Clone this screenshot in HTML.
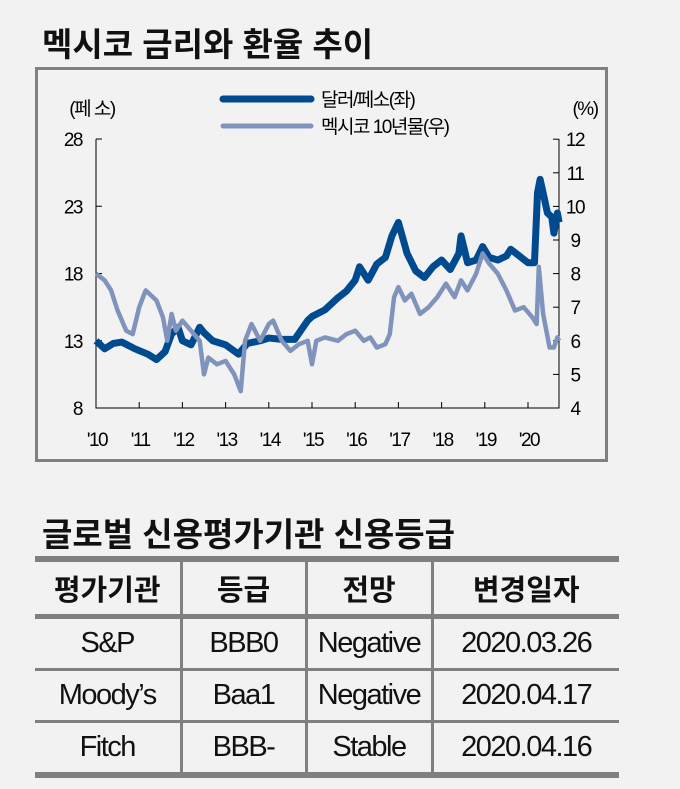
<!DOCTYPE html>
<html><head><meta charset="utf-8"><style>
body{margin:0;background:#f2f2f2;font-family:"Liberation Sans","Noto Sans CJK KR",sans-serif;}
#wrap{position:relative;width:680px;height:789px;overflow:hidden;background:#f2f2f2}
.t{position:absolute;white-space:nowrap;color:#111}
table{position:absolute;left:35px;top:556px;width:584px;border-collapse:collapse;font-size:29px;color:#111;table-layout:fixed}
td,th{text-align:center;padding:0;border-left:3px solid #808080;overflow:visible;white-space:nowrap}
td:first-child,th:first-child{border-left:none}
th{font-weight:bold;height:52px;border-bottom:5px solid #808080;font-size:29px}
td{height:49px;border-bottom:3px solid #808080;letter-spacing:-1.5px}
tr:last-child td{border-bottom:6px solid #808080}
</style></head><body>
<div id="wrap">
<div class="t" style="left:42px;top:18px;font-size:33px;font-weight:bold">멕시코 금리와 환율 추이</div>
<svg id="chart" width="680" height="470" style="position:absolute;left:0;top:0"></svg>
<div class="t" style="left:42px;top:508px;font-size:33px;font-weight:bold">글로벌 신용평가기관 신용등급</div>
<table style="border-top:6px solid #808080">
<colgroup><col style="width:146px"><col style="width:125px"><col style="width:126px"><col></colgroup>
<tr><th>평가기관</th><th>등급</th><th>전망</th><th>변경일자</th></tr>
<tr><td>S&amp;P</td><td>BBB0</td><td>Negative</td><td>2020.03.26</td></tr>
<tr><td>Moody’s</td><td>Baa1</td><td>Negative</td><td>2020.04.17</td></tr>
<tr><td>Fitch</td><td>BBB-</td><td>Stable</td><td>2020.04.16</td></tr>
</table>
</div>
<script>
const fxT=[2010.0,2010.2,2010.4,2010.6,2010.9,2011.2,2011.4,2011.6,2011.75,2011.9,2012.0,2012.2,2012.4,2012.5,2012.7,2013.0,2013.3,2013.5,2013.8,2014.0,2014.3,2014.6,2014.9,2015.0,2015.3,2015.6,2015.8,2016.0,2016.1,2016.3,2016.5,2016.7,2016.85,2017.0,2017.2,2017.4,2017.6,2017.8,2018.0,2018.2,2018.4,2018.45,2018.6,2018.8,2018.95,2019.1,2019.3,2019.5,2019.6,2019.8,2020.0,2020.15,2020.22,2020.28,2020.35,2020.45,2020.55,2020.6,2020.68,2020.72];
const fxV=[13,12.4,12.8,12.9,12.4,12.0,11.6,12.2,13.5,14.0,13.0,12.7,14.0,13.6,13.0,12.7,12.0,12.8,13.0,13.2,13.1,13.1,14.5,14.8,15.3,16.2,16.7,17.5,18.5,17.5,18.7,19.2,20.8,21.8,19.5,18.2,17.7,18.5,19.0,18.3,19.5,20.8,18.8,19.0,20.0,19.2,19.0,19.3,19.8,19.3,18.8,18.8,24.0,25.0,24.0,22.5,22.2,21.0,22.5,21.8];
const yT=[2010.0,2010.2,2010.35,2010.5,2010.7,2010.85,2011.0,2011.15,2011.4,2011.55,2011.65,2011.75,2011.85,2012.0,2012.2,2012.4,2012.5,2012.6,2012.8,2013.0,2013.2,2013.35,2013.45,2013.6,2013.8,2014.0,2014.1,2014.3,2014.5,2014.7,2014.9,2015.0,2015.1,2015.3,2015.6,2015.8,2016.0,2016.2,2016.35,2016.5,2016.7,2016.8,2016.9,2017.0,2017.15,2017.3,2017.5,2017.7,2017.9,2018.1,2018.3,2018.45,2018.6,2018.8,2018.95,2019.1,2019.3,2019.5,2019.7,2019.9,2020.1,2020.2,2020.25,2020.35,2020.5,2020.6,2020.68,2020.72];
const yV=[8.0,7.8,7.5,6.9,6.3,6.2,7.0,7.5,7.2,6.7,6.0,6.8,6.3,6.6,6.3,6.0,5.0,5.5,5.3,5.4,5.0,4.5,6.0,6.5,6.0,6.5,6.6,6.0,5.7,5.9,6.0,5.3,6.0,6.1,6.0,6.2,6.3,6.0,6.1,5.8,5.9,6.2,7.3,7.6,7.2,7.4,6.8,7.0,7.3,7.7,7.3,7.8,7.5,8.0,8.6,8.3,8.0,7.5,6.9,7.0,6.7,6.5,8.2,6.8,5.8,5.8,6.1,6.0];
const leftTicks=[8,13,18,23,28];
const rightTicks=[4,5,6,7,8,9,10,11,12];
const years=["'10","'11","'12","'13","'14","'15","'16","'17","'18","'19","'20"];
const X=t=>96+(t-2010)*43.2, YL=v=>408-(v-8)*13.45, YR=v=>408-(v-4)*33.6;
const svg=document.getElementById('chart'),NS='http://www.w3.org/2000/svg';
function mk(tag,a,txt){const e=document.createElementNS(NS,tag);for(const k in a)e.setAttribute(k,a[k]);if(txt!=null)e.textContent=txt;svg.appendChild(e);return e;}
let e=mk('rect',{x:36.5,y:68.5,width:570,height:392,fill:'none',stroke:'#808080','stroke-width':3});

e=mk('path',{d:`M96,139V408H559V139`,fill:'none',stroke:'#000','stroke-width':1});

const F='font-family:"Liberation Sans","Noto Sans CJK KR",sans-serif;font-size:19px;letter-spacing:-1.5px';
leftTicks.forEach(v=>{e=mk('line',{x1:96,x2:102,y1:YL(v),y2:YL(v),stroke:'#000'});
e=mk('text',{x:82,y:YL(v)+7,'text-anchor':'end',style:F},v);});
rightTicks.forEach(v=>{e=mk('line',{x1:553,x2:559,y1:YR(v),y2:YR(v),stroke:'#000'});
e=mk('text',{x:575,y:YR(v)+7,'text-anchor':'middle',style:F},v);});
years.forEach((s,i)=>{const x=X(2010+i);e=mk('line',{x1:x,x2:x,y1:402,y2:408,stroke:'#000'});
e=mk('text',{x:x+1,y:446,'text-anchor':'middle',style:F},s);});
e=mk('text',{x:92,y:115,'text-anchor':'middle',style:F},'(페 소)');
e=mk('text',{x:585,y:115,'text-anchor':'middle',style:F},'(%)');
e=mk('path',{d:fxT.map((t,i)=>(i?'L':'M')+X(t)+','+YL(fxV[i])).join(''),fill:'none',stroke:'#004a8f','stroke-width':7,'stroke-linejoin':'round'});

e=mk('path',{d:yT.map((t,i)=>(i?'L':'M')+X(t)+','+YR(yV[i])).join(''),fill:'none',stroke:'#7f93bd','stroke-width':4.5,'stroke-linejoin':'round'});

e=mk('line',{x1:223,x2:311,y1:99,y2:99,stroke:'#004a8f','stroke-width':7,'stroke-linecap':'round'});
e=mk('text',{x:321,y:106,style:F},'달러/페소(좌)');
e=mk('line',{x1:223,x2:311,y1:126,y2:126,stroke:'#7f93bd','stroke-width':5,'stroke-linecap':'round'});
e=mk('text',{x:321,y:133,style:F},'멕시코 10년물(우)');
</script>
</body></html>
